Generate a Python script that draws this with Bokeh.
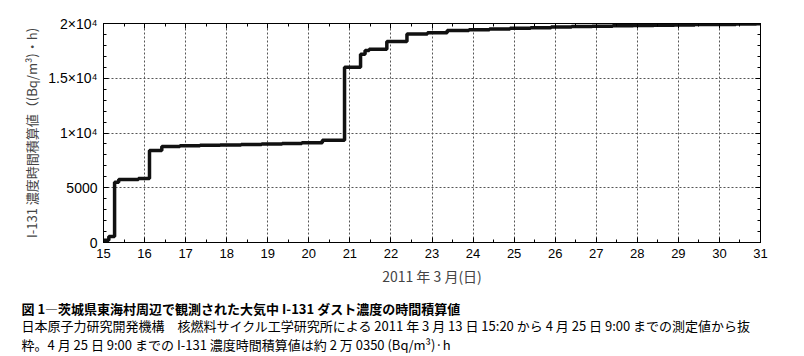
from bokeh.plotting import figure
from bokeh.models import (LinearAxis, SingleIntervalTicker, Range1d, Title, Grid,
                          CustomJSTickFormatter)
from bokeh.embed import file_html
from bokeh.resources import INLINE

# ---- data (day of March 2011, cumulative I-131 concentration-time (Bq/m3)*h) ----
days = [15.00, 15.13, 15.27, 15.37, 15.85, 16.12, 16.42, 16.86, 17.35, 17.84,
        18.35, 18.85, 19.35, 19.83, 20.33, 20.87, 21.26, 21.37, 21.47, 21.90,
        22.39, 22.89, 23.37, 23.90, 24.40, 24.90, 25.40, 25.90, 26.40, 26.90,
        27.40, 27.90, 28.40, 28.90, 29.40, 29.90, 30.40, 30.90, 31.00]
values = [200, 550, 5500, 5750, 5850, 8400, 8760, 8830, 8870, 8910,
          8950, 9000, 9050, 9100, 9330, 16000, 17200, 17530, 17650, 18350,
          19050, 19150, 19360, 19430, 19500, 19560, 19620, 19680, 19720, 19760,
          19790, 19820, 19840, 19870, 19900, 19920, 19950, 19970, 19980]

y_tick_values = [0, 5000, 10000, 15000, 20000]
y_tick_labels = ["0", "5000", "1×10⁴", "1.5×10⁴", "2×10⁴"]

x_label = "2011 年 3 月(日)"
y_label = "I-131 濃度時間積算値（(Bq/m³)・h)"
caption_title = "図 1―茨城県東海村周辺で観測された大気中 I-131 ダスト濃度の時間積算値"
caption_line1 = "日本原子力研究開発機構　核燃料サイクル工学研究所による 2011 年 3 月 13 日 15:20 から 4 月 25 日 9:00 までの測定値から抜"
caption_line2 = "粋。4 月 25 日 9:00 までの I-131 濃度時間積算値は約 2 万 0350 (Bq/m³)·h"

W, H = 804, 356
BL, BR, BT, BB = 103, 44, 23, 114
X0, X1, Y0, Y1 = 15, 31, 0, 20000

p = figure(width=W, height=H, output_backend="svg", toolbar_location=None,
           x_range=Range1d(X0, X1), y_range=Range1d(Y0, Y1),
           min_border_left=BL, min_border_right=BR, min_border_top=BT,
           min_border_bottom=BB, x_axis_type=None, y_axis_type=None,
           background_fill_color="white", border_fill_color="white")
p.outline_line_color = "black"
p.outline_line_width = 1

xt = SingleIntervalTicker(interval=1, num_minor_ticks=2)
yt = SingleIntervalTicker(interval=5000, num_minor_ticks=5)

TICK_FONT = "Liberation Sans"


def style_axis(ax, labels=True, size="14px"):
    ax.axis_line_color = "black"
    ax.axis_line_width = 1
    ax.major_tick_in = 5
    ax.major_tick_out = 0
    ax.minor_tick_in = 3
    ax.minor_tick_out = 0
    ax.major_tick_line_color = "black"
    ax.minor_tick_line_color = "black"
    ax.major_label_text_font = TICK_FONT
    ax.major_label_text_color = "black"
    ax.major_label_text_font_size = size
    if not labels:
        ax.formatter = CustomJSTickFormatter(code="return '';")
        ax.major_label_standoff = 0


xb = LinearAxis(ticker=xt)
style_axis(xb, size="13px")
xb.major_label_standoff = 6
xb.axis_label = x_label
xb.axis_label_text_font = "Noto Sans CJK JP"
xb.axis_label_text_font_style = "normal"
xb.axis_label_text_font_size = "14px"
xb.axis_label_standoff = 5
p.add_layout(xb, "below")

yl = LinearAxis(ticker=yt)
style_axis(yl)
yl.major_label_standoff = 6
yl.major_label_overrides = {v: s for v, s in zip(y_tick_values, y_tick_labels)}
yl.axis_label = y_label
yl.axis_label_text_font = "Noto Sans CJK JP"
yl.axis_label_text_font_style = "normal"
yl.axis_label_text_font_size = "13px"
yl.axis_label_standoff = 4
p.add_layout(yl, "left")

xa = LinearAxis(ticker=xt)
style_axis(xa, labels=False)
p.add_layout(xa, "above")

yr = LinearAxis(ticker=yt)
style_axis(yr, labels=False)
p.add_layout(yr, "right")

# dashed grid
for dim, tk in ((0, xt), (1, yt)):
    g = Grid(dimension=dim, ticker=tk, grid_line_color="#555555",
             grid_line_dash="2 2", grid_line_width=1)
    p.add_layout(g)

p.step(days, values, mode="after", line_color="#111111", line_width=3.5)

# caption as titles stacked below the x axis
CAP_LEFT = 21

p.add_layout(Title(text=caption_title, align="left", offset=CAP_LEFT - BL,
                   text_font="Noto Sans CJK JP", text_font_size="13px",
                   text_font_style="bold", text_color="black", standoff=17),
             "below")
p.add_layout(Title(text=caption_line1 + "\n" + caption_line2, align="left",
                   offset=CAP_LEFT - BL, text_font="Noto Sans CJK JP",
                   text_font_size="13px", text_font_style="normal",
                   text_line_height=1.0, text_color="black", standoff=-25.4),
             "below")

open("out.html", "w").write(file_html(p, INLINE))
